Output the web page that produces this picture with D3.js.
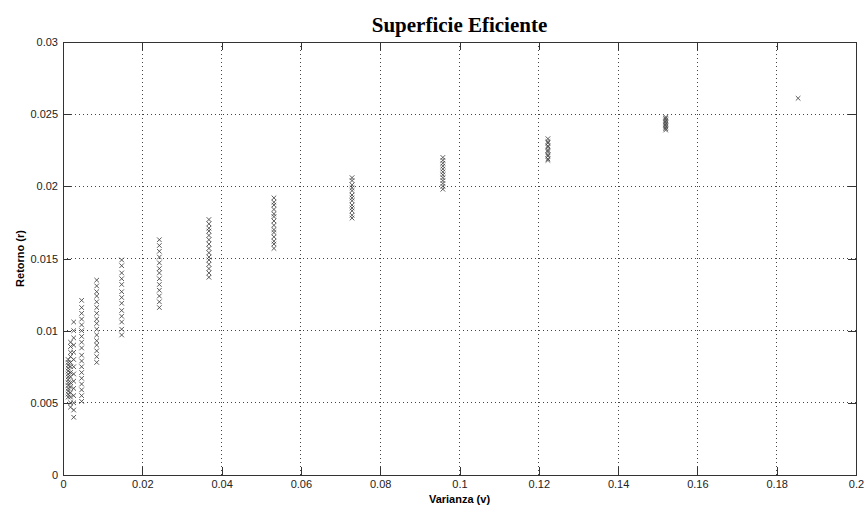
<!DOCTYPE html>
<html>
<head>
<meta charset="utf-8">
<script src="https://cdn.jsdelivr.net/npm/d3@7"></script>
<style>
body{margin:0;background:#fff;}
text{font-family:"Liberation Sans",Arial,sans-serif;}
</style>
</head>
<body>
<div id="chart"></div>
<script>

// varianza of each column of portfolios
var varianza = [0.0013,0.0019,0.0027,0.0047,0.0085,0.0148,0.0243,0.0368,0.0532,0.0729,0.0958,0.1223,0.152,0.1854]

// retorno values for each column (same order as varianza)
var retorno = [
	[0.0054,0.0056,0.0058,0.0060,0.0062,0.0064,0.0066,0.0068,0.0070,0.0072,0.0074,0.0076,0.0078,0.0080],
	[0.0047,0.0050,0.0054,0.0057,0.0061,0.0064,0.0068,0.0071,0.0075,0.0078,0.0082,0.0085,0.0089,0.0092],
	[0.0040,0.0045,0.0050,0.0055,0.0060,0.0065,0.0070,0.0075,0.0080,0.0085,0.0090,0.0095,0.0100,0.0106],
	[0.0051,0.0055,0.0059,0.0063,0.0067,0.0071,0.0075,0.0079,0.0083,0.0088,0.0092,0.0096,0.0100,0.0104,0.0108,0.0112,0.0116,0.0121],
	[0.0078,0.0082,0.0086,0.0090,0.0093,0.0097,0.0101,0.0105,0.0108,0.0112,0.0116,0.0120,0.0124,0.0127,0.0131,0.0135],
	[0.0097,0.0101,0.0106,0.0110,0.0114,0.0119,0.0123,0.0127,0.0132,0.0136,0.0140,0.0145,0.0149],
	[0.0116,0.0120,0.0124,0.0128,0.0132,0.0136,0.0140,0.0143,0.0147,0.0151,0.0155,0.0159,0.0163],
	[0.0137,0.0140,0.0143,0.0146,0.0149,0.0151,0.0154,0.0157,0.0160,0.0163,0.0166,0.0169,0.0171,0.0174,0.0177],
	[0.0157,0.0160,0.0162,0.0165,0.0168,0.0170,0.0173,0.0176,0.0179,0.0181,0.0184,0.0187,0.0189,0.0192],
	[0.0178,0.0180,0.0183,0.0185,0.0187,0.0190,0.0192,0.0194,0.0197,0.0199,0.0201,0.0204,0.0206],
	[0.0198,0.0200,0.0202,0.0204,0.0206,0.0208,0.0210,0.0212,0.0214,0.0216,0.0218,0.0220],
	[0.0218,0.0219,0.0221,0.0222,0.0224,0.0225,0.0227,0.0228,0.0230,0.0231,0.0233],
	[0.0239,0.0240,0.0241,0.0242,0.0243,0.0244,0.0245,0.0246,0.0247,0.0248],
	[0.0261]
]

var xTicks = [0,0.02,0.04,0.06,0.08,0.1,0.12,0.14,0.16,0.18,0.2]
var xTickLabels = ["0","0.02","0.04","0.06","0.08","0.1","0.12","0.14","0.16","0.18","0.2"]
var yTicks = [0,0.005,0.01,0.015,0.02,0.025,0.03]
var yTickLabels = ["0","0.005","0.01","0.015","0.02","0.025","0.03"]

var titulo = "Superficie Eficiente"
var xLabel = "Varianza (v)"
var yLabel = "Retorno (r)"

var margin = {top: 42, right: 10, bottom: 32, left: 63},
	width = 793,
	height = 433;

var xScale = d3.scaleLinear()
				.domain([0,0.2])
				.range([0,width])

var yScale = d3.scaleLinear()
				.domain([0,0.03])
				.range([height,0])

var svg = d3.select("#chart").append("svg")
			.attr("width",866)
			.attr("height",507)
			.style("display","block")

svg.append("rect").attr("width",866).attr("height",507).attr("fill","#fff")

var canvas = svg.append("g")
			.attr("transform","translate(" + margin.left + "," + margin.top + ")")

// dotted grid
canvas.selectAll(".gx")
	.data(xTicks.slice(1,-1)).enter()
	.append("line")
	.attr("x1",function(d){return xScale(d)})
	.attr("x2",function(d){return xScale(d)})
	.attr("y1",0)
	.attr("y2",height)
	.attr("stroke","#444")
	.attr("stroke-width",1)
	.attr("stroke-dasharray","1,3")
	.attr("shape-rendering","crispEdges")

canvas.selectAll(".gy")
	.data(yTicks.slice(1,-1)).enter()
	.append("line")
	.attr("x1",0)
	.attr("x2",width)
	.attr("y1",function(d){return yScale(d)})
	.attr("y2",function(d){return yScale(d)})
	.attr("stroke","#444")
	.attr("stroke-width",1)
	.attr("stroke-dasharray","1,3")
	.attr("shape-rendering","crispEdges")

// axes with inward ticks, box on all four sides
var bottomAxis = canvas.append("g")
	.attr("transform","translate(0," + height + ")")
	.call(d3.axisBottom(xScale).tickValues(xTicks)
		.tickFormat(function(d,i){return xTickLabels[i]})
		.tickSizeInner(-8).tickSizeOuter(0).tickPadding(5))

var leftAxis = canvas.append("g")
	.call(d3.axisLeft(yScale).tickValues(yTicks)
		.tickFormat(function(d,i){return yTickLabels[i]})
		.tickSizeInner(-8).tickSizeOuter(0).tickPadding(5))

var topAxis = canvas.append("g")
	.call(d3.axisTop(xScale).tickValues(xTicks)
		.tickFormat("").tickSizeInner(-8).tickSizeOuter(0))

var rightAxis = canvas.append("g")
	.attr("transform","translate(" + width + ",0)")
	.call(d3.axisRight(yScale).tickValues(yTicks)
		.tickFormat("").tickSizeInner(-8).tickSizeOuter(0))

canvas.selectAll(".domain").attr("stroke","#333").attr("shape-rendering","crispEdges")
canvas.selectAll(".tick line").attr("stroke","#333").attr("shape-rendering","crispEdges")
canvas.selectAll(".tick text")
	.attr("font-family","'Liberation Sans',Arial,sans-serif")
	.attr("font-size","11px")
	.attr("fill","#222")

// points
var points = []
for(var i=0;i<varianza.length;i++){
	for(var j=0;j<retorno[i].length;j++){
		points.push({"v":varianza[i],"r":retorno[i][j]})
	}
}

canvas.selectAll(".pt")
	.data(points).enter()
	.append("path")
	.attr("transform",function(d){return "translate(" + xScale(d["v"]) + "," + yScale(d["r"]) + ")"})
	.attr("d","M-2.3,-2.3L2.3,2.3M-2.3,2.3L2.3,-2.3")
	.attr("fill","none")
	.attr("stroke","#4a4a4a")
	.attr("stroke-width",0.9)

// labels
svg.append("text")
	.attr("x",margin.left + width/2)
	.attr("y",32)
	.attr("text-anchor","middle")
	.style("font-family","'Liberation Serif','Times New Roman',serif")
	.style("font-weight","bold")
	.style("font-size","21px")
	.text(titulo)

svg.append("text")
	.attr("x",margin.left + width/2)
	.attr("y",503)
	.attr("text-anchor","middle")
	.style("font-weight","bold")
	.style("font-size","11px")
	.text(xLabel)

svg.append("text")
	.attr("transform","translate(24," + (margin.top + height/2) + ") rotate(-90)")
	.attr("text-anchor","middle")
	.style("font-weight","bold")
	.style("font-size","11px")
	.text(yLabel)

</script>
</body>
</html>
